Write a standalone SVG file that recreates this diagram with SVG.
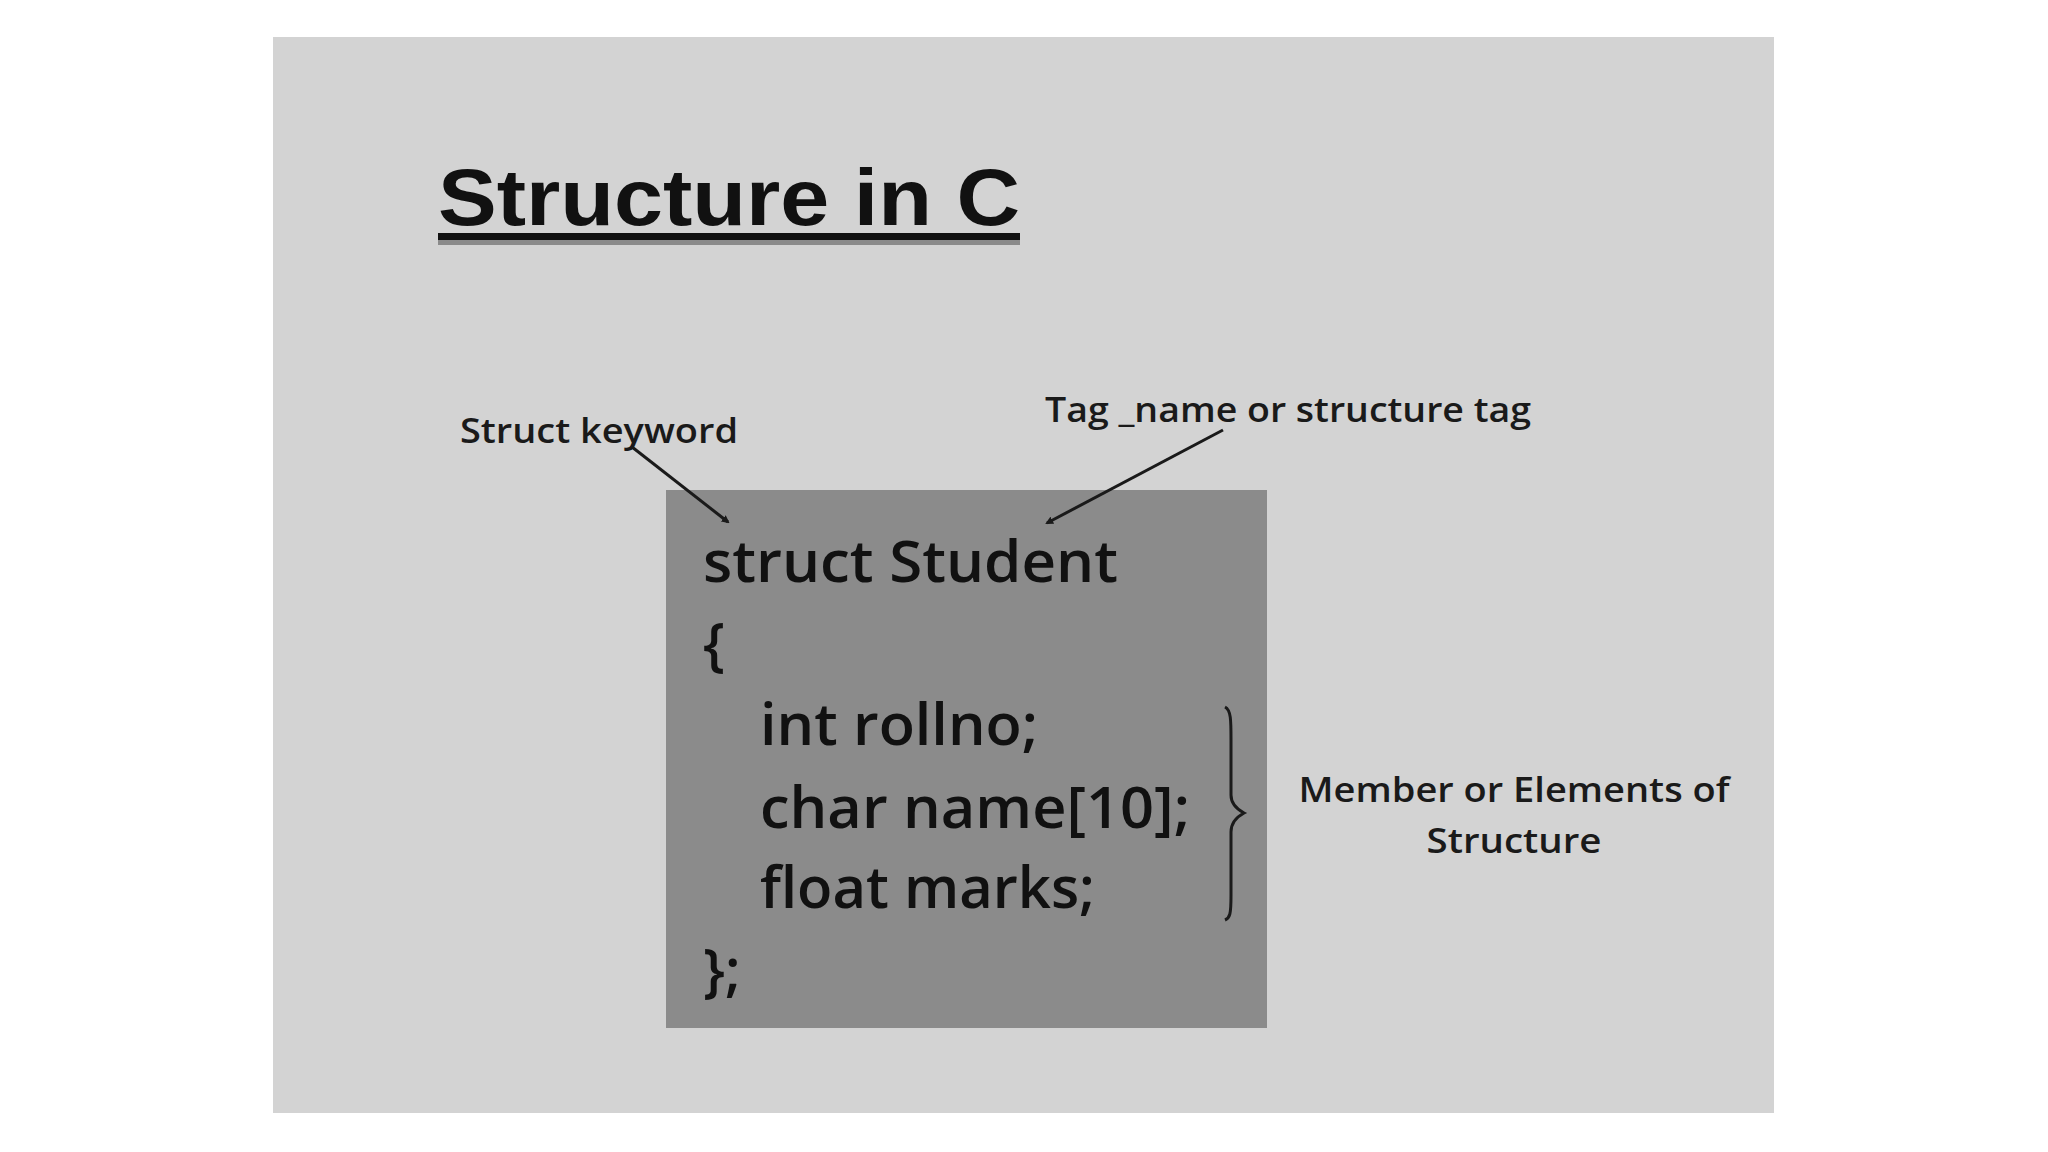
<svg xmlns="http://www.w3.org/2000/svg" width="2048" height="1152" viewBox="0 0 2048 1152">
<style>
.ann{font-family:"Open Sans","Liberation Sans",sans-serif;font-weight:600;font-size:35px;fill:#1a1a1a}
.code{font-family:"Open Sans","Liberation Sans",sans-serif;font-weight:600;font-size:57px;fill:#111}
.title{font-family:"Liberation Sans",Arial,sans-serif;font-weight:700;font-size:80px;fill:#111}
.conn{stroke:#1a1a1a;stroke-width:3;fill:none}
</style>
<defs>
<marker id="ah" markerWidth="8" markerHeight="8" refX="6" refY="4" orient="auto" markerUnits="userSpaceOnUse">
<path d="M0,0 L8,4 L0,8 Z" fill="#1a1a1a"/>
</marker>
</defs>
<rect x="0" y="0" width="2048" height="1152" fill="#ffffff"/>
<rect id="panel" x="273" y="37" width="1501" height="1076" fill="#d3d3d3"/>
<g id="title">
<text class="title" x="438" y="225" textLength="582" lengthAdjust="spacingAndGlyphs">Structure in C</text>
<rect x="438" y="233" width="582" height="7" fill="#111"/>
<rect x="438" y="240" width="582" height="5" fill="#8a8a8a"/>
</g>
<g id="code-box">
<rect x="666" y="490" width="601" height="538" fill="#8b8b8b"/>
<text class="code" x="703" y="582" textLength="415" lengthAdjust="spacingAndGlyphs">struct Student</text>
<text class="code" x="703" y="664">{</text>
<text class="code" x="760" y="745" textLength="278" lengthAdjust="spacingAndGlyphs">int rollno;</text>
<text class="code" x="760" y="828" textLength="430" lengthAdjust="spacingAndGlyphs">char name[10];</text>
<text class="code" x="760" y="908" textLength="335" lengthAdjust="spacingAndGlyphs">float marks;</text>
<text class="code" x="703" y="990">};</text>
</g>
<g id="struct-keyword">
<text class="ann" x="460" y="443" textLength="278" lengthAdjust="spacingAndGlyphs">Struct keyword</text>
</g>
<g id="tag-name">
<text class="ann" x="1045" y="422" textLength="486" lengthAdjust="spacingAndGlyphs">Tag _name or structure tag</text>
</g>
<g id="members">
<path d="M1225,707 C1231,710 1231,720 1231,740 L1231,795 Q1231,806 1244,813 Q1231,820 1231,832 L1231,895 C1231,914 1230,918 1225,920" stroke="#1a1a1a" stroke-width="3" fill="none"/>
<text class="ann" x="1514" y="802" text-anchor="middle" textLength="431" lengthAdjust="spacingAndGlyphs">Member or Elements of</text>
<text class="ann" x="1514" y="853" text-anchor="middle" textLength="175" lengthAdjust="spacingAndGlyphs">Structure</text>
</g>
<g id="connectors">
<line class="conn" x1="632" y1="447" x2="728" y2="522" marker-end="url(#ah)"/>
<line class="conn" x1="1223" y1="430" x2="1047" y2="523" marker-end="url(#ah)"/>
</g>
</svg>
